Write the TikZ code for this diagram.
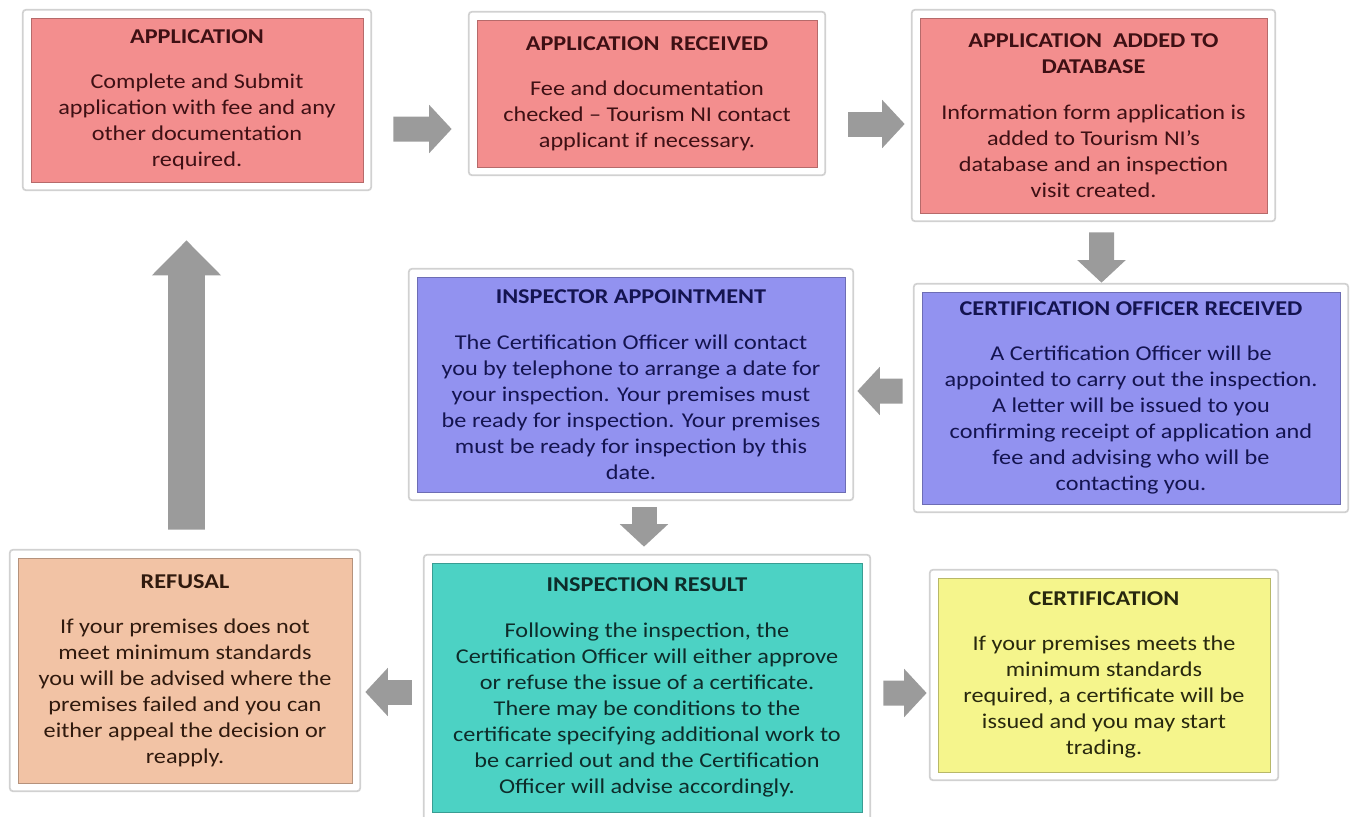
\documentclass[tikz,border=0pt]{standalone}
\usepackage{fontspec}
\setmainfont{Carlito}[FakeStretch=1.15]
\usetikzlibrary{arrows.meta,calc}

\definecolor{redfill}{RGB}{243,142,142}
\definecolor{redtext}{RGB}{62,16,20}
\definecolor{bluefill}{RGB}{146,146,240}
\definecolor{bluetext}{RGB}{20,20,80}
\definecolor{tealfill}{RGB}{76,210,196}
\definecolor{tealtext}{RGB}{14,44,42}
\definecolor{peachfill}{RGB}{242,195,165}
\definecolor{peachtext}{RGB}{48,26,14}
\definecolor{yellowfill}{RGB}{245,245,140}
\definecolor{yellowtext}{RGB}{40,40,14}
\definecolor{arrowgray}{RGB}{155,155,155}

\begin{document}
\begin{tikzpicture}[x=0.02cm,y=-0.02cm]
  \tikzstyle{stage}=[rectangle, inner sep=0pt, align=center, font={\fontsize{12pt}{14.8pt}\selectfont}]
  \tikzstyle{redbox}=[stage, fill=redfill, draw=redfill!75!black, text=redtext]
  \tikzstyle{bluebox}=[stage, fill=bluefill, draw=bluefill!75!black, text=bluetext]
  \tikzstyle{tealbox}=[stage, fill=tealfill, draw=tealfill!75!black, text=tealtext]
  \tikzstyle{peachbox}=[stage, fill=peachfill, draw=peachfill!75!black, text=peachtext]
  \tikzstyle{yellowbox}=[stage, fill=yellowfill, draw=yellowfill!75!black, text=yellowtext]
  \tikzstyle{frame}=[draw=black!18, line width=1pt, rounded corners=2pt]
  \tikzstyle{flow}=[draw=arrowgray, line width=0.5cm, -{Triangle[width=0.94cm,length=0.45cm]}]
  \tikzstyle{bigflow}=[flow, line width=0.74cm, -{Triangle[width=1.34cm,length=0.7cm]}]

  \useasboundingbox (0,0) rectangle (1350,816);

  % top row
  \node[redbox, minimum width=6.64cm, minimum height=3.28cm] (app) at (197,100)
    {{\bfseries APPLICATION}\\[11pt]
     Complete and Submit\\application with fee and any\\other documentation\\required.};
  \node[redbox, minimum width=6.8cm, minimum height=2.94cm] (rec) at (647,93.5)
    {{\bfseries APPLICATION\ \ RECEIVED}\\[11pt]
     Fee and documentation\\checked – Tourism NI contact\\applicant if necessary.};
  \node[redbox, minimum width=6.94cm, minimum height=3.9cm] (db) at (1093.5,115.5)
    {{\bfseries APPLICATION\ \ ADDED TO}\\{\bfseries DATABASE}\\[11pt]
     Information form application is\\added to Tourism NI’s\\database and an inspection\\visit created.};

  % middle row
  \node[bluebox, minimum width=8.36cm, minimum height=4.24cm] (cor) at (1131,398)
    {{\bfseries CERTIFICATION OFFICER RECEIVED}\\[11pt]
     A Certification Officer will be\\appointed to carry out the inspection.\\A letter will be issued to you\\confirming receipt of application and\\fee and advising who will be\\contacting you.};
  \node[bluebox, minimum width=8.56cm, minimum height=4.3cm] (ins) at (631,384.5)
    {{\bfseries INSPECTOR APPOINTMENT}\\[11pt]
     The Certification Officer will contact\\you by telephone to arrange a date for\\your inspection. Your premises must\\be ready for inspection. Your premises\\must be ready for inspection by this\\date.};

  % bottom row
  \node[tealbox, minimum width=8.6cm, minimum height=4.98cm] (res) at (647,687.5)
    {{\bfseries INSPECTION RESULT}\\[11pt]
     Following the inspection, the\\Certification Officer will either approve\\or refuse the issue of a certificate.\\There may be conditions to the\\certificate specifying additional work to\\be carried out and the Certification\\Officer will advise accordingly.};
  \node[peachbox, minimum width=6.68cm, minimum height=4.5cm] (ref) at (185,670.5)
    {{\bfseries REFUSAL}\\[11pt]
     If your premises does not\\meet minimum standards\\you will be advised where the\\premises failed and you can\\either appeal the decision or\\reapply.};
  \node[yellowbox, minimum width=6.64cm, minimum height=3.88cm] (cert) at (1104,675)
    {{\bfseries CERTIFICATION}\\[11pt]
     If your premises meets the\\minimum standards\\required, a certificate will be\\issued and you may start\\trading.};

  \foreach \n in {app,rec,db,cor,ins,res,ref,cert}
    \draw[frame] ($(\n.south west)+(-8,8)$) rectangle ($(\n.north east)+(8,-8)$);

  % arrows
  \draw[flow] ($(app.east)+(30,29)$) -- ($(rec.west)+(-25,35.5)$);
  \draw[flow] ($(rec.east)+(31,30.5)$) -- ($(db.west)+(-15,8.5)$);
  \draw[flow] ($(db.south)+(8,19)$) -- ($(cor.north)+(-29.5,-9)$);
  \draw[flow] ($(cor.west)+(-19,-7)$) -- ($(ins.east)+(12,6.5)$);
  \draw[flow] ($(ins.south)+(13,15)$) -- ($(res.north)+(-3,-16)$);
  \draw[flow] ($(res.west)+(-20,4.5)$) -- ($(ref.east)+(13,21.5)$);
  \draw[flow] ($(res.east)+(21,5.5)$) -- ($(cert.west)+(-11,18)$);
  \draw[bigflow] ($(ref.north)+(1.5,-28)$) -- ($(app.south)+(-10.5,58)$);
\end{tikzpicture}
\end{document}
